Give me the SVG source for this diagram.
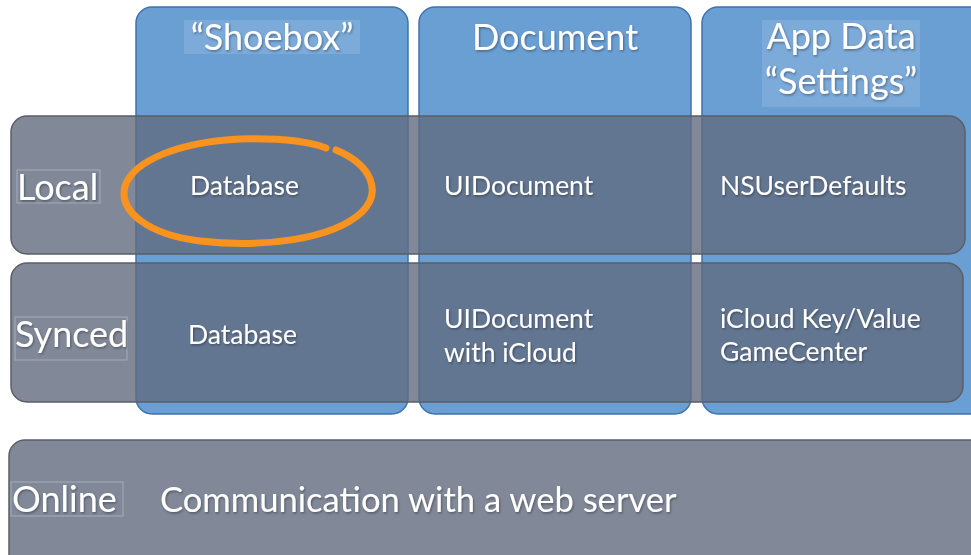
<svg xmlns="http://www.w3.org/2000/svg" width="971" height="555" viewBox="0 0 971 555">
<defs>
<style>
.col{fill:#6a9fd4;stroke:#3f72ad;stroke-width:1.5}
.row{fill:rgb(98,108,128);fill-opacity:0.8;stroke:#5a5f66;stroke-width:1.5}
.t{font-family:Lato,"Open Sans","Liberation Sans",sans-serif;fill:#fff;filter:url(#sh)}
.h{font-size:36px;text-anchor:middle}
.c{font-size:26.5px}
.rl{font-size:36px}
.hb{fill:#ffffff;fill-opacity:0.12}
.lb{fill:none;stroke:#ffffff;stroke-opacity:0.3;stroke-width:1}
</style>
<filter id="sh" x="-10%" y="-20%" width="120%" height="150%">
<feDropShadow dx="1" dy="1.5" stdDeviation="1.2" flood-color="#000" flood-opacity="0.35"/>
</filter>
</defs>
<rect width="971" height="555" fill="#fff"/>
<g id="col-shoebox">
<rect class="col" x="136" y="7" width="272" height="407" rx="16"/>
<rect class="hb" x="184" y="20" width="176" height="34"/>
<text class="t h" x="272" y="50">“Shoebox”</text>
</g>
<g id="col-document">
<rect class="col" x="419" y="7" width="272" height="407" rx="16"/>
<text class="t h" x="555" y="50">Document</text>
</g>
<g id="col-appdata">
<rect class="col" x="702" y="7" width="290" height="407" rx="16"/>
<rect class="hb" x="762" y="20" width="158" height="87"/>
<text class="t h" x="841" y="49">App Data</text>
<text class="t h" x="841" y="94">“Settings”</text>
</g>
<g id="row-local">
<rect class="row" x="11" y="116" width="954" height="138" rx="16"/>
<rect class="lb" x="17" y="170" width="83" height="33"/>
<text class="t rl" x="17" y="200">Local</text>
<text class="t c" x="190" y="195">Database</text>
<text class="t c" x="444" y="195">UIDocument</text>
<text class="t c" x="720" y="195">NSUserDefaults</text>
</g>
<g id="row-synced">
<rect class="row" x="11" y="263" width="952" height="139" rx="16"/>
<rect class="lb" x="15" y="317" width="112" height="43"/>
<text class="t rl" x="15" y="347">Synced</text>
<text class="t c" x="188" y="344">Database</text>
<text class="t c" x="444" y="328">UIDocument</text>
<text class="t c" x="444" y="362">with iCloud</text>
<text class="t c" x="720" y="328">iCloud Key/Value</text>
<text class="t c" x="720" y="361">GameCenter</text>
</g>
<g id="row-online">
<rect class="row" x="9" y="440" width="980" height="140" rx="16"/>
<rect class="lb" x="11" y="482" width="112" height="34"/>
<text class="t rl" x="12" y="512">Online</text>
<text class="t" x="160" y="512" font-size="34.6">Communication with a web server</text>
</g>
<g id="highlight">
<path d="M336,150 C372,165 382,192 362,212 C332,240 262,248 200,241 C150,235 118,212 125,186 C134,160 180,142 240,139 C280,138 310,142 326,148" fill="none" stroke="#f7931e" stroke-width="7" stroke-linecap="round"/>
</g>
<g id="connectors"/>
</svg>
